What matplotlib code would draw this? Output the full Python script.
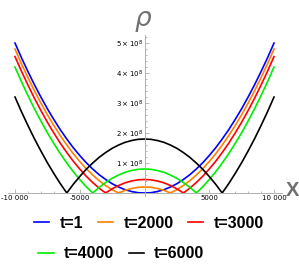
import numpy as np
import matplotlib.pyplot as plt
from matplotlib.lines import Line2D
from matplotlib.ticker import FixedLocator, MultipleLocator

# right half samples (x >= 0), values in units of 1e8; curves are symmetric
x_half = [0, 500, 1000, 1500, 2000, 2500, 3000, 3500, 4000, 4500, 5000,
          5500, 6000, 6500, 7000, 7500, 8000, 8500, 9000, 9500, 10000]

rho_t1 = [0, 0.01, 0.05, 0.11, 0.2, 0.31, 0.45, 0.61, 0.8, 1.01, 1.25,
          1.51, 1.8, 2.11, 2.45, 2.81, 3.2, 3.61, 4.05, 4.51, 5.0]
rho_t2000 = [0.2, 0.19, 0.15, 0.09, 0, 0.11, 0.25, 0.41, 0.6, 0.81, 1.05,
             1.31, 1.6, 1.91, 2.25, 2.61, 3.0, 3.41, 3.85, 4.31, 4.8]
rho_t3000 = [0.45, 0.44, 0.4, 0.34, 0.25, 0.14, 0, 0.16, 0.35, 0.56, 0.8,
             1.06, 1.35, 1.66, 2.0, 2.36, 2.75, 3.16, 3.6, 4.06, 4.55]
rho_t4000 = [0.8, 0.79, 0.75, 0.69, 0.6, 0.49, 0.35, 0.19, 0, 0.21, 0.45,
             0.71, 1.0, 1.31, 1.65, 2.01, 2.4, 2.81, 3.25, 3.71, 4.2]
rho_t6000 = [1.8, 1.79, 1.75, 1.69, 1.6, 1.49, 1.35, 1.19, 1.0, 0.79, 0.55,
             0.29, 0, 0.31, 0.65, 1.01, 1.4, 1.81, 2.25, 2.71, 3.2]

labels = ["t=1", "t=2000", "t=3000", "t=4000", "t=6000"]
colors = ["#0000ff", "#ff8000", "#ff0000", "#00ee00", "#000000"]
series = [rho_t1, rho_t2000, rho_t3000, rho_t4000, rho_t6000]

xh = np.array(x_half, dtype=float)
x_full = np.concatenate([-xh[::-1], xh[1:]])

fig = plt.figure(figsize=(2.99, 2.70), dpi=100)
ax = fig.add_axes([8/299, 1 - 196/270, 274/299, (196 - 35)/270])

for vals, c in zip(series, colors):
    v = np.array(vals) * 1e8
    y_full = np.concatenate([v[::-1], v[1:]])
    ax.plot(x_full, y_full, color=c, lw=1.2, solid_joinstyle="round")

ax.set_xlim(-10541, 10618)
ax.set_ylim(-0.1e8, 5.27e8)

for s in ["top", "right"]:
    ax.spines[s].set_visible(False)
ax.spines["left"].set_position(("data", 0))
ax.spines["bottom"].set_position(("data", 0))
for s in ["left", "bottom"]:
    ax.spines[s].set_color("#b0b0b0")
    ax.spines[s].set_linewidth(0.7)

ax.xaxis.set_major_locator(FixedLocator([-10000, -5000, 5000, 10000]))
ax.xaxis.set_minor_locator(MultipleLocator(1000))
ax.set_xticklabels(["-10 000", "-5000", "5000", "10 000"])
ax.yaxis.set_major_locator(FixedLocator([1e8, 2e8, 3e8, 4e8, 5e8]))
ax.yaxis.set_minor_locator(MultipleLocator(0.2e8))
ax.set_yticklabels([r"$%d\times10^{8}$" % i for i in range(1, 6)])
ax.tick_params(which="both", direction="in", color="#b0b0b0", width=0.6,
               labelsize=5.0, pad=1.5)
ax.tick_params(which="major", length=3)
ax.tick_params(which="minor", length=1.5)
ax.patch.set_alpha(0)

fig.text(143/299, 1 - 19/270, "ρ", fontsize=19, color="#707070",
         ha="center", va="center", style="italic", family="DejaVu Sans")
fig.text(299/299, 1 - 190/270, "X", fontsize=14.5, color="#707070",
         ha="right", va="center", weight="bold", family="Liberation Sans")

handles = [Line2D([], [], color=c, lw=1.2) for c in colors]
font = {"family": "Liberation Sans", "weight": "bold", "size": 11.5}
fig.legend(handles[:3], labels[:3], ncol=3, loc="center",
           bbox_to_anchor=(149/299, 1 - 223/270), frameon=False,
           prop=font, handlelength=0.95, handletextpad=0.65,
           columnspacing=0.9)
fig.legend(handles[3:], labels[3:], ncol=2, loc="center left",
           bbox_to_anchor=(24/299, 1 - 254/270), frameon=False,
           prop=font, handlelength=0.95, handletextpad=0.65,
           columnspacing=0.9)

fig.savefig("out.png", dpi=100)
